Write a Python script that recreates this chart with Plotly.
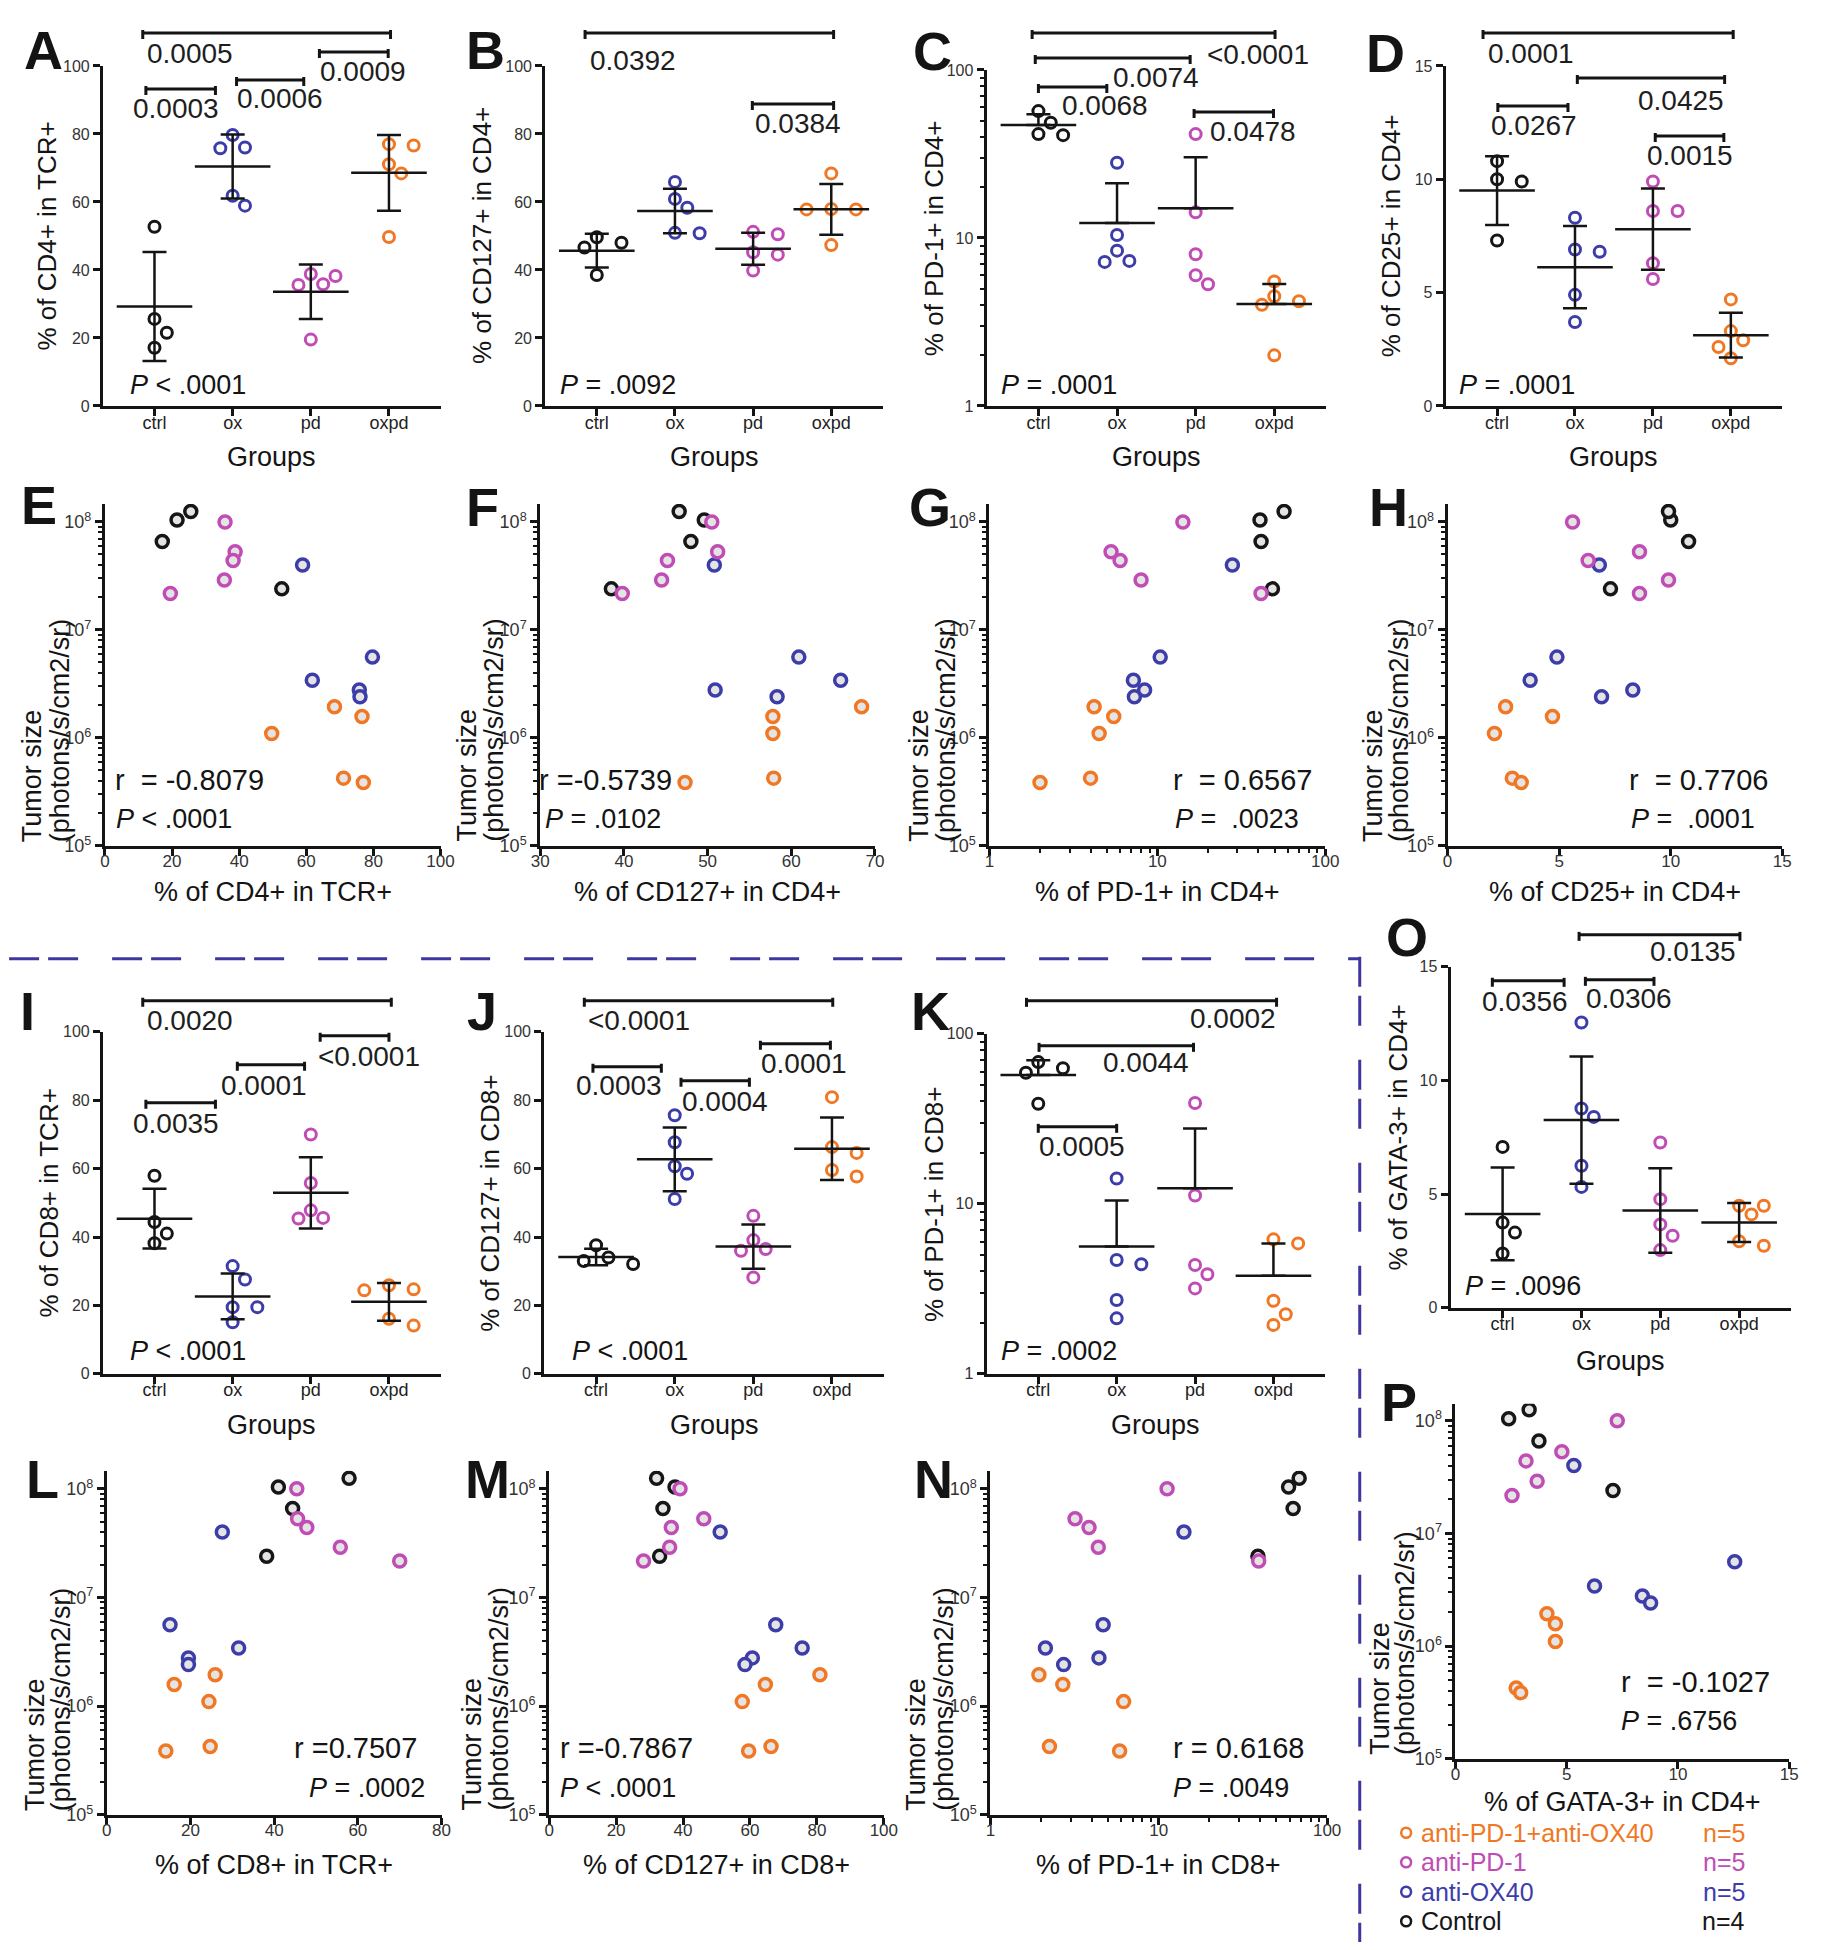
import numpy as np
import plotly.graph_objects as go

# page geometry (measured): figure sits inside the default 8px body margin,
# the photographed page is squeezed vertically by ~0.991 with ~17px above the figure
PAGE_W, PAGE_H, OFFX = 1827, 1950, 8
FIG_W, FIG_H = PAGE_W - 2 * OFFX, 1934
VSCALE, VTOP = 0.9908, 17.2
FONT = "Liberation Sans, Arial, Helvetica, sans-serif"
INK = "#141414"

# ---------------- data ----------------
groups = ["ctrl", "ox", "pd", "oxpd"]
group_colors = {"ctrl": "#161616", "ox": "#3d3daa", "pd": "#c04db5", "oxpd": "#f07824"}

# per-mouse values (same mouse order in every array)
tumor_size = {
    "ctrl": [6.6e7, 1.04e8, 1.25e8, 2.4e7],
    "ox": [4.0e7, 5.6e6, 3.42e6, 2.78e6, 2.41e6],
    "pd": [1.0e8, 5.3e7, 4.4e7, 2.9e7, 2.17e7],
    "oxpd": [1.94e6, 1.58e6, 1.10e6, 4.24e5, 3.86e5],
}
cd4_in_tcr = {
    "ctrl": [17.1, 21.5, 25.6, 52.7],
    "ox": [58.9, 79.7, 61.8, 75.8, 76.0],
    "pd": [35.8, 38.8, 38.2, 35.6, 19.5],
    "oxpd": [68.4, 76.6, 49.7, 71.1, 77.0],
}
cd127_in_cd4 = {
    "ctrl": [48.0, 49.6, 46.6, 38.5],
    "ox": [50.8, 60.9, 65.9, 50.9, 58.3],
    "pd": [50.5, 51.2, 45.2, 44.5, 39.8],
    "oxpd": [68.4, 57.8, 57.8, 57.9, 47.3],
}
pd1_in_cd4 = {
    "ctrl": [41.5, 40.9, 56.9, 48.5],
    "ox": [28.0, 10.4, 7.2, 8.4, 7.3],
    "pd": [14.2, 5.3, 6.0, 8.0, 41.5],
    "oxpd": [4.2, 5.5, 4.5, 4.0, 2.0],
}
cd25_in_cd4 = {
    "ctrl": [10.8, 10.0, 9.9, 7.3],
    "ox": [6.8, 4.9, 3.7, 8.3, 6.9],
    "pd": [5.6, 8.6, 6.3, 9.9, 8.6],
    "oxpd": [2.6, 4.7, 2.1, 2.9, 3.3],
}
cd8_in_tcr = {
    "ctrl": [44.4, 41.0, 57.9, 38.2],
    "ox": [27.6, 15.1, 31.5, 19.5, 19.5],
    "pd": [45.4, 45.6, 47.8, 55.8, 70.0],
    "oxpd": [25.9, 16.1, 24.4, 24.7, 14.1],
}
cd127_in_cd8 = {
    "ctrl": [34.0, 37.6, 32.1, 33.0],
    "ox": [51.1, 67.7, 75.6, 60.7, 58.5],
    "pd": [39.1, 46.2, 36.5, 36.0, 28.2],
    "oxpd": [80.9, 64.6, 57.7, 66.3, 59.6],
}
pd1_in_cd8 = {
    "ctrl": [62.8, 59.0, 68.2, 38.8],
    "ox": [14.1, 4.67, 2.12, 4.41, 2.72],
    "pd": [11.2, 3.18, 3.85, 4.37, 39.2],
    "oxpd": [1.94, 2.69, 6.18, 2.24, 5.85],
}
gata3_in_cd4 = {
    "ctrl": [3.75, 2.39, 3.31, 7.08],
    "ox": [5.32, 12.55, 6.25, 8.40, 8.77],
    "pd": [7.27, 4.78, 3.17, 3.67, 2.54],
    "oxpd": [4.11, 4.49, 4.49, 2.73, 2.93],
}

# statistics text
anova_p = {"A": "P < .0001", "B": "P = .0092", "C": "P = .0001", "D": "P = .0001",
           "I": "P < .0001", "J": "P < .0001", "K": "P = .0002", "O": "P = .0096"}
posthoc_p = {
    "A": ["0.0005", "0.0003", "0.0006", "0.0009"],
    "B": ["0.0392", "0.0384"],
    "C": ["<0.0001", "0.0074", "0.0068", "0.0478"],
    "D": ["0.0001", "0.0425", "0.0267", "0.0015"],
    "I": ["0.0020", "0.0035", "0.0001", "<0.0001"],
    "J": ["<0.0001", "0.0003", "0.0004", "0.0001"],
    "K": ["0.0002", "0.0044", "0.0005"],
    "O": ["0.0135", "0.0356", "0.0306"],
}
corr_r = {"E": "r  = -0.8079", "F": "r =-0.5739", "G": "r  = 0.6567", "H": "r  = 0.7706",
          "L": "r =0.7507", "M": "r =-0.7867", "N": "r = 0.6168", "P": "r  = -0.1027"}
corr_p = {"E": "P < .0001", "F": "P = .0102", "G": "P =  .0023", "H": "P =  .0001",
          "L": "P = .0002", "M": "P < .0001", "N": "P = .0049", "P": "P = .6756"}

legend_groups = ["oxpd", "pd", "ox", "ctrl"]
legend_labels = ["anti-PD-1+anti-OX40", "anti-PD-1", "anti-OX40", "Control"]
legend_n = ["n=5", "n=5", "n=5", "n=4"]

# ---------------- helpers ----------------
fig = go.Figure()
axes_layout = {}
annotations = []
shapes = []


def PX(x):
    return (x - OFFX) / FIG_W


def PY(y):
    return 1 - (y / VSCALE - VTOP) / FIG_H


def rich(s):
    s = s.replace("<", "&lt;").replace("  ", "\u00a0\u00a0")
    if s.startswith("P"):
        s = "<i>P</i>" + s[1:]
    return s


def ann(text, x, y, size, color=INK, xanchor="center", yanchor="middle", angle=0,
        xref="paper", yref="paper", bold=False):
    if xref == "paper":
        x = PX(x)
    if yref == "paper":
        y = PY(y)
    annotations.append(dict(
        text=("<b>%s</b>" % text) if bold else text, x=x, y=y, xref=xref, yref=yref,
        xanchor=xanchor, yanchor=yanchor, textangle=angle, showarrow=False,
        font=dict(size=size, color=color, family=FONT)))


AXIS = dict(showline=True, linecolor=INK, linewidth=3, ticks="outside", ticklen=7,
            tickwidth=2.5, tickcolor=INK, showgrid=False, zeroline=False, fixedrange=True)


def add_axes(i, xbox, ybox, xcfg, ycfg):
    s = "" if i == 1 else str(i)
    axes_layout["xaxis" + s] = {**AXIS, "domain": [PX(xbox[0]), PX(xbox[1])], "anchor": "y" + s,
                                "ticklabelstandoff": -9, **xcfg}
    axes_layout["yaxis" + s] = {**AXIS, "domain": [PY(ybox[1]), PY(ybox[0])], "anchor": "x" + s, **ycfg}
    return "x" + s, "y" + s


def minor_log(e0, e1):
    return [k * 10.0 ** e for e in range(e0, e1) for k in range(2, 10)]


def swarm(vals, lo, hi, log, h_px, ppu, diam=14.5, step=12.5):
    t = np.log10(vals) if log else np.asarray(vals, float)
    py = (t - lo) / (hi - lo) * h_px
    order = np.argsort(-py, kind="stable")
    placed, offs = [], np.zeros(len(vals))
    for i in order:
        ox = 0.0
        for k in (0, 1, -1, 2, -2, 3, -3):
            ox = k * step
            if all((ox - qx) ** 2 + (py[i] - qy) ** 2 >= diam ** 2 for qx, qy in placed):
                break
        placed.append((ox, py[i]))
        offs[i] = ox / ppu
    return offs


# ---------------- group (dot plot) panels ----------------
group_panels = [
    dict(key="A", data=cd4_in_tcr, box=(95, 437, 67, 407), log=False, yr=[0, 100],
         yt=[0, 20, 40, 60, 80, 100], ytitle="% of CD4+ in TCR+", yt_x=38, letter=(35, 51),
         xt_y=458, p_xy=(120, 386),
         br=[(-0.15, 3.02, 34, 0.45, 55), (-0.11, 0.78, 90, 0.28, 110),
             (1.05, 1.91, 81, 1.60, 100), (2.11, 2.99, 53, 2.67, 73)]),
    dict(key="B", data=cd127_in_cd4, box=(543, 885, 67, 407), log=False, yr=[0, 100],
         yt=[0, 20, 40, 60, 80, 100], ytitle="% of CD127+ in CD4+", yt_x=479, letter=(483, 51),
         xt_y=458, p_xy=(556, 386),
         br=[(-0.15, 3.03, 34, 0.46, 62), (1.99, 3.03, 105, 2.58, 125)]),
    dict(key="C", data=pd1_in_cd4, box=(990, 1334, 71, 407), log=True, yr=[0, 2],
         yt=[1, 10, 100], ytitle="% of PD-1+ in CD4+", yt_x=937, letter=(935, 52),
         xt_y=458, p_xy=(1003, 386),
         br=[(-0.08, 3.01, 34, 2.79, 56), (-0.04, 1.93, 59, 1.50, 79),
             (0.0, 0.87, 88, 0.85, 107), (1.98, 2.99, 113, 2.73, 133)]),
    dict(key="D", data=cd25_in_cd4, box=(1455, 1796, 67, 407), log=False, yr=[0, 15],
         yt=[0, 5, 10, 15], ytitle="% of CD25+ in CD4+", yt_x=1400, letter=(1394, 54),
         xt_y=458, p_xy=(1467, 386),
         br=[(-0.18, 3.03, 34, 0.43, 55), (1.03, 2.92, 79, 2.36, 102),
             (0.01, 0.91, 107, 0.47, 127), (2.03, 2.91, 137, 2.48, 157)]),
    dict(key="I", data=cd8_in_tcr, box=(95, 437, 1033, 1375), log=False, yr=[0, 100],
         yt=[0, 20, 40, 60, 80, 100], ytitle="% of CD8+ in TCR+", yt_x=40, letter=(19, 1012),
         xt_y=1426, p_xy=(120, 1352),
         br=[(-0.15, 3.03, 1002, 0.45, 1022), (-0.11, 0.78, 1104, 0.28, 1125),
             (1.06, 1.92, 1066, 1.40, 1087), (2.12, 3.0, 1037, 2.74, 1058)]),
    dict(key="J", data=cd127_in_cd8, box=(542, 886, 1033, 1375), log=False, yr=[0, 100],
         yt=[0, 20, 40, 60, 80, 100], ytitle="% of CD127+ in CD8+", yt_x=487, letter=(479, 1012),
         xt_y=1426, p_xy=(568, 1352),
         br=[(-0.15, 3.01, 1002, 0.54, 1022), (-0.04, 0.83, 1068, 0.29, 1087),
             (1.08, 1.95, 1082, 1.64, 1103), (2.09, 2.98, 1045, 2.65, 1065)]),
    dict(key="K", data=pd1_in_cd8, box=(990, 1333, 1035, 1375), log=True, yr=[0, 2],
         yt=[1, 10, 100], ytitle="% of PD-1+ in CD8+", yt_x=937, letter=(933, 1012),
         xt_y=1426, p_xy=(1003, 1352),
         br=[(-0.15, 3.04, 1002, 2.48, 1020), (0.01, 1.98, 1047, 1.38, 1064),
             (0.0, 1.0, 1128, 0.56, 1148)]),
    dict(key="O", data=gata3_in_cd4, box=(1460, 1805, 968, 1309), log=False, yr=[0, 15],
         yt=[0, 5, 10, 15], ytitle="% of GATA-3+ in CD4+", yt_x=1407, letter=(1416, 938),
         xt_y=1362, p_xy=(1473, 1287),
         br=[(0.97, 3.01, 936, 2.41, 953), (-0.13, 0.78, 982, 0.29, 1003),
             (1.05, 1.92, 981, 1.60, 1000)]),
]

idx = 0
for P in group_panels:
    idx += 1
    x0, x1, y0, y1 = P["box"]
    xr = [-0.66, 3.66]
    ppu = (x1 - x0) / (xr[1] - xr[0])
    ycfg = dict(range=P["yr"], tickmode="array", tickvals=P["yt"], ticktext=[str(v) for v in P["yt"]],
                tickfont=dict(size=16, color="#333", family=FONT))
    if P["log"]:
        ycfg.update(type="log", minor=dict(tickmode="array", tickvals=minor_log(0, 2), ticks="outside",
                                           ticklen=4, tickwidth=1.5, tickcolor=INK))
    xcfg = dict(range=xr, tickmode="array", tickvals=[0, 1, 2, 3], ticktext=groups,
                tickfont=dict(size=18, color="#222", family=FONT))
    xa, ya = add_axes(idx, (x0, x1), (y0, y1), xcfg, ycfg)
    for k, g in enumerate(groups):
        v = np.asarray(P["data"][g], float)
        offs = swarm(v, P["yr"][0], P["yr"][1], P["log"], y1 - y0, ppu)
        fig.add_trace(go.Scatter(
            x=k + offs, y=v, mode="markers", xaxis=xa, yaxis=ya, showlegend=False, hoverinfo="skip",
            marker=dict(symbol="circle-open", size=11, color=group_colors[g],
                        line=dict(width=3, color=group_colors[g]))))
    for k, g in enumerate(groups):
        v = np.asarray(P["data"][g], float)
        m, sd = v.mean(), v.std(ddof=1)
        fig.add_trace(go.Scatter(
            x=[k], y=[m], mode="markers", xaxis=xa, yaxis=ya, showlegend=False, hoverinfo="skip",
            marker=dict(symbol="line-ew-open", size=54, color=INK, line=dict(width=2.5, color=INK)),
            error_y=dict(type="data", symmetric=False, array=[sd], arrayminus=[0.0 if P["log"] else sd],
                         width=12, thickness=2.5, color=INK)))
    # significance brackets
    for (bx0, bx1, by, lx, ly), lab in zip(P["br"], posthoc_p[P["key"]]):
        shapes.append(dict(type="line", xref=xa, yref="paper", x0=bx0, x1=bx1, y0=PY(by), y1=PY(by),
                           line=dict(color=INK, width=3)))
        for xe in (bx0, bx1):
            shapes.append(dict(type="line", xref=xa, yref="paper", x0=xe, x1=xe, y0=PY(by - 3), y1=PY(by + 6),
                               line=dict(color=INK, width=3)))
        ann(rich(lab), lx, ly, 28, color="#1e1e1e", xref=xa)
    # texts
    ann(P["key"], P["letter"][0], P["letter"][1], 54, bold=True)
    ann(P["ytitle"], P["yt_x"], (y0 + y1) / 2, 26, angle=-90)
    ann("Groups", (x0 + x1) / 2, P["xt_y"], 27)
    ann(rich(anova_p[P["key"]]), P["p_xy"][0], P["p_xy"][1], 27, xanchor="left")

# ---------------- correlation (scatter) panels ----------------
scatter_panels = [
    dict(key="E", data=cd4_in_tcr, box=(97, 437, 505, 847), yr=[5, 8.167], xlog=False, xr=[0, 100],
         xt=[0, 20, 40, 60, 80, 100], xtitle="% of CD4+ in TCR+", xt_y=893, letter=(30, 506),
         yt_x=(24, 51), r_xy=(105, 781), p_xy=(106, 820)),
    dict(key="F", data=cd127_in_cd4, box=(538, 877, 505, 847), yr=[5, 8.167], xlog=False, xr=[30, 70],
         xt=[30, 40, 50, 60, 70], xtitle="% of CD127+ in CD4+", xt_y=893, letter=(479, 508),
         yt_x=(464, 491), r_xy=(535, 781), p_xy=(541, 820)),
    dict(key="G", data=pd1_in_cd4, box=(993, 1333, 505, 847), yr=[5, 8.167], xlog=True, xr=[0, 2],
         xt=[1, 10, 100], xtitle="% of PD-1+ in CD4+", xt_y=893, letter=(933, 508),
         yt_x=(922, 949), r_xy=(1177, 781), p_xy=(1179, 820)),
    dict(key="H", data=cd25_in_cd4, box=(1457, 1796, 505, 847), yr=[5, 8.167], xlog=False, xr=[0, 15],
         xt=[0, 5, 10, 15], xtitle="% of CD25+ in CD4+", xt_y=893, letter=(1397, 508),
         yt_x=(1382, 1408), r_xy=(1639, 781), p_xy=(1641, 820)),
    dict(key="L", data=cd8_in_tcr, box=(99, 438, 1472, 1816), yr=[5, 8.166], xlog=False, xr=[0, 80],
         xt=[0, 20, 40, 60, 80], xtitle="% of CD8+ in TCR+", xt_y=1866, letter=(34, 1480),
         yt_x=(26, 52), r_xy=(287, 1749), p_xy=(302, 1789)),
    dict(key="M", data=cd127_in_cd8, box=(547, 886, 1472, 1816), yr=[5, 8.166], xlog=False, xr=[0, 100],
         xt=[0, 20, 40, 60, 80, 100], xtitle="% of CD127+ in CD8+", xt_y=1866, letter=(485, 1480),
         yt_x=(469, 496), r_xy=(556, 1749), p_xy=(556, 1789)),
    dict(key="N", data=pd1_in_cd8, box=(994, 1335, 1472, 1816), yr=[5, 8.166], xlog=True, xr=[0, 2],
         xt=[1, 10, 100], xtitle="% of PD-1+ in CD8+", xt_y=1866, letter=(936, 1480),
         yt_x=(919, 947), r_xy=(1177, 1749), p_xy=(1177, 1789)),
    dict(key="P", data=gata3_in_cd4, box=(1465, 1803, 1405, 1760), yr=[5, 8.15], xlog=False, xr=[0, 15],
         xt=[0, 5, 10, 15], xtitle="% of GATA-3+ in CD4+", xt_y=1803, letter=(1408, 1403),
         yt_x=(1389, 1414), r_xy=(1631, 1683), p_xy=(1631, 1722)),
]

for P in scatter_panels:
    idx += 1
    x0, x1, y0, y1 = P["box"]
    ycfg = dict(type="log", range=P["yr"], tickmode="array", tickvals=[1e5, 1e6, 1e7, 1e8],
                ticktext=["10<sup>5</sup>", "10<sup>6</sup>", "10<sup>7</sup>", "10<sup>8</sup>"],
                tickfont=dict(size=18, color="#333", family=FONT),
                minor=dict(tickmode="array", tickvals=minor_log(5, 8), ticks="outside",
                           ticklen=4, tickwidth=1.5, tickcolor=INK))
    xcfg = dict(range=P["xr"], tickmode="array", tickvals=P["xt"], ticktext=[str(v) for v in P["xt"]],
                tickfont=dict(size=17, color="#333", family=FONT))
    if P["xlog"]:
        xcfg.update(type="log", minor=dict(tickmode="array", tickvals=minor_log(0, 2), ticks="outside",
                                           ticklen=4, tickwidth=1.5, tickcolor=INK))
    xa, ya = add_axes(idx, (x0, x1), (y0, y1), xcfg, ycfg)
    for g in groups:
        fig.add_trace(go.Scatter(
            x=P["data"][g], y=tumor_size[g], mode="markers", xaxis=xa, yaxis=ya,
            showlegend=False, hoverinfo="skip",
            marker=dict(symbol="circle", size=12, color="#e4e4e4",
                        line=dict(width=3.5, color=group_colors[g]))))
    ann(P["key"], P["letter"][0], P["letter"][1], 54, bold=True)
    ann("Tumor size", P["yt_x"][0], y1 - 2, 27, angle=-90, yanchor="bottom")
    ann("(photons/s/cm2/sr)", P["yt_x"][1], y1 - 2, 27, angle=-90, yanchor="bottom")
    ann(P["xtitle"], (x0 + x1) / 2, P["xt_y"], 27)
    ann(rich(corr_r[P["key"]]), P["r_xy"][0], P["r_xy"][1], 29, xanchor="left")
    ann(rich(corr_p[P["key"]]), P["p_xy"][0], P["p_xy"][1], 27, xanchor="left")

# ---------------- legend ----------------
for j, (g, lab, n) in enumerate(zip(legend_groups, legend_labels, legend_n)):
    cy = 1834 + 29.5 * j
    c = group_colors[g]
    shapes.append(dict(type="circle", xref="paper", yref="paper", x0=PX(1410), x1=PX(1420),
                       y0=PY(cy + 5), y1=PY(cy - 5), line=dict(color=c, width=2.5)))
    ann(lab, 1428, cy, 25, color=c, xanchor="left")
    ann(n, 1760, cy, 25, color=c, xanchor="right")

# ---------------- dashed separators ----------------
SEP = dict(color="#3f37a0", width=3, dash="30px,9px,30px,34px")
shapes.append(dict(type="line", xref="paper", yref="paper", x0=PX(0), x1=PX(1368),
                   y0=PY(960), y1=PY(960), line=SEP))
shapes.append(dict(type="line", xref="paper", yref="paper", x0=PX(1368), x1=PX(1368),
                   y0=PY(958), y1=PY(1950), line=SEP))

fig.update_layout(
    width=FIG_W, height=FIG_H, margin=dict(l=0, r=0, t=0, b=0, pad=0),
    paper_bgcolor="white", plot_bgcolor="white", showlegend=False,
    font=dict(family=FONT, color=INK), annotations=annotations, shapes=shapes, **axes_layout)

fig.write_html("out.html", config={"displayModeBar": False})
